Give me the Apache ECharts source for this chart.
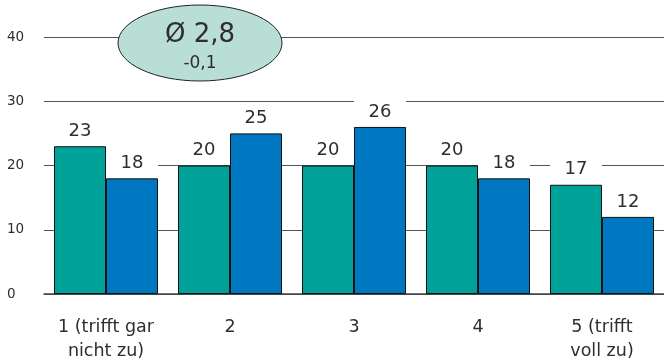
<!DOCTYPE html>
<html>
<head>
<meta charset="utf-8">
<script src="https://cdn.jsdelivr.net/npm/echarts@6/dist/echarts.min.js"></script>
<style>
  html, body { margin: 0; padding: 0; background: #fff; }
  #chart { width: 664px; height: 363px; }
</style>
</head>
<body>
<div id="chart"></div>
<script>
// Answer scale categories
const categories = ['1 (trifft gar\nnicht zu)', '2', '3', '4', '5 (trifft\nvoll zu)'];
// Shares in percent, earlier and current survey
const seriesPrev = [23, 20, 20, 20, 17];
const seriesCurr = [18, 25, 26, 18, 12];
// Average badge
const averageText = 'Ø 2,8';
const averageDelta = '-0,1';

const FONT = '"DejaVu Sans", sans-serif';
const TEXT = '#2e2e2e';

const chart = echarts.init(document.getElementById('chart'), null, { renderer: 'canvas' });

function barSeries(data, color) {
  return {
    type: 'bar',
    data: data,
    barWidth: 52,
    barGap: '0%',
    itemStyle: { color: color, borderColor: '#111', borderWidth: 1 },
    label: {
      show: true,
      position: 'top',
      distance: 2,
      color: TEXT,
      fontFamily: FONT,
      fontSize: 18,
      backgroundColor: '#fff',
      width: 52,
      height: 26,
      lineHeight: 26,
      align: 'center',
      verticalAlign: 'bottom'
    },
    z: 3
  };
}

chart.setOption({
  animation: false,
  grid: { left: 44, top: 37, width: 625, bottom: 68, containLabel: false },
  xAxis: {
    type: 'category',
    data: categories,
    axisTick: { show: false },
    axisLine: { show: true, lineStyle: { color: '#444', width: 1.5 } },
    axisLabel: {
      color: TEXT,
      fontFamily: FONT,
      fontSize: 17.5,
      lineHeight: 24,
      margin: 21,
      interval: 0
    }
  },
  yAxis: {
    type: 'value',
    min: 0,
    max: 40,
    interval: 10,
    axisLine: { show: false },
    axisTick: { show: false },
    splitLine: { lineStyle: { color: '#555', width: 1.2 } },
    axisLabel: {
      color: TEXT,
      fontFamily: FONT,
      fontSize: 13.5,
      align: 'left',
      margin: 37
    }
  },
  series: [
    barSeries(seriesPrev, '#00a199'),
    barSeries(seriesCurr, '#0077c1')
  ],
  graphic: [
    {
      type: 'ellipse',
      shape: { cx: 200, cy: 43, rx: 82, ry: 38 },
      style: { fill: '#b9ded6', stroke: '#222', lineWidth: 1 },
      z: 10
    },
    {
      type: 'text',
      x: 200, y: 35,
      style: {
        text: averageText, fill: TEXT, font: '26px ' + FONT,
        textAlign: 'center', textVerticalAlign: 'middle'
      },
      z: 11
    },
    {
      type: 'text',
      x: 200, y: 64,
      style: {
        text: averageDelta, fill: TEXT, font: '17px ' + FONT,
        textAlign: 'center', textVerticalAlign: 'middle'
      },
      z: 11
    }
  ]
});
</script>
</body>
</html>
